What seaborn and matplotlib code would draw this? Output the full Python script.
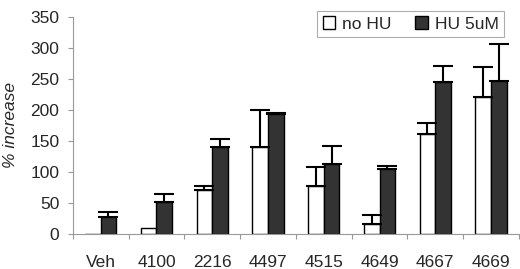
import matplotlib
matplotlib.use("Agg")
import matplotlib.pyplot as plt
import seaborn as sns
import pandas as pd
import numpy as np
from matplotlib.ticker import FixedLocator
from matplotlib.patches import Patch

categories = ["Veh", "4100", "2216", "4497", "4515", "4649", "4667", "4669"]
no_hu = [0, 10, 71, 140, 77, 16, 161, 220]
no_hu_err = [0, 0, 7, 60, 31, 15, 18, 49]
hu_5um = [28, 51, 140, 194, 112, 104, 245, 247]
hu_5um_err = [7, 13, 13, 1, 29, 6, 26, 59]
series = ["no HU", "HU 5uM"]

sns.set_theme(style="white")
plt.rcParams['font.family'] = ['Liberation Sans', 'DejaVu Sans']

df = pd.DataFrame({
    "cat": categories * 2,
    "val": no_hu + hu_5um,
    "series": [series[0]] * len(categories) + [series[1]] * len(categories),
})

fig, ax = plt.subplots(figsize=(5.2, 2.69), dpi=100)
fig.subplots_adjust(left=0.140, right=0.998, bottom=0.130, top=0.938)

sns.barplot(data=df, x="cat", y="val", hue="series", order=categories,
            hue_order=series, palette=["white", "#333333"], width=0.56,
            edgecolor="black", linewidth=1.0, errorbar=None, ax=ax, legend=False)

n = len(categories)
patches = ax.patches[:2 * n]
errs = no_hu_err + hu_5um_err
vals = no_hu + hu_5um
for p, v, e in zip(patches, vals, errs):
    if e > 0:
        xc = p.get_x() + p.get_width() / 2
        ax.errorbar([xc], [v], yerr=[[0], [e]], fmt="none", ecolor="black",
                    elinewidth=1.5, capsize=7, capthick=1.5)

FS = 12.5
ax.set_ylim(0, 350)
ax.set_xlim(-0.5, n - 0.5)
ax.set_yticks(range(0, 351, 50))
ax.tick_params(axis="y", labelsize=FS, length=3.6, width=0.8, color="#999999", left=True, pad=6)
ax.set_xlabel("")
ax.set_ylabel("% increase", fontsize=FS, style="italic", labelpad=9)

ax.xaxis.set_minor_locator(FixedLocator(np.arange(-0.5, n, 1.0)))
ax.tick_params(axis="x", which="major", length=0, labelsize=FS, pad=15)
ax.tick_params(axis="x", which="minor", length=3.6, width=0.8, color="#999999", bottom=True)

for s in ["top", "right"]:
    ax.spines[s].set_visible(False)
for s in ["left", "bottom"]:
    ax.spines[s].set_color("#999999")
    ax.spines[s].set_linewidth(0.8)

handles = [Patch(facecolor="white", edgecolor="black", linewidth=1.0),
           Patch(facecolor="#333333", edgecolor="black", linewidth=1.0)]
leg = ax.legend(handles, series, loc="upper right", ncol=2, fontsize=FS,
                frameon=True, fancybox=False, edgecolor="#999999",
                bbox_to_anchor=(0.985, 1.065), handlelength=0.7, handleheight=0.7,
                handletextpad=0.4, columnspacing=1.4, borderpad=0.3)
leg.get_frame().set_linewidth(0.8)

fig.savefig("out.png", dpi=100)
